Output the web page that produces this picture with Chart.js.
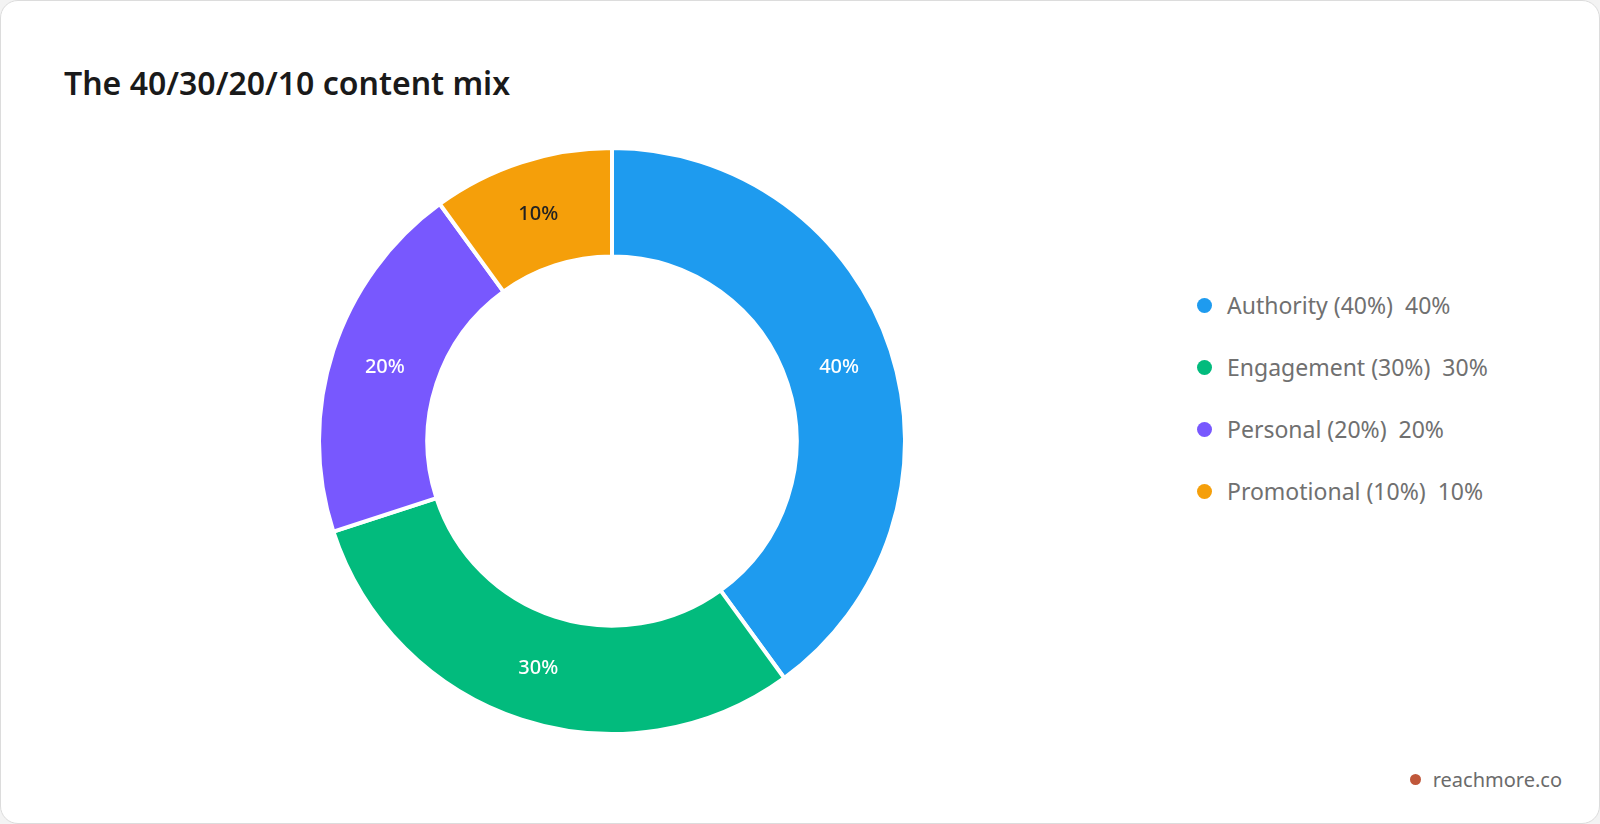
<!DOCTYPE html>
<html>
<head>
<meta charset="utf-8">
<script src="https://cdn.jsdelivr.net/npm/chart.js@4"></script>
<style>
  body { margin: 0; background: #f3f3f3; font-family: "Segoe UI", "Noto Sans", "Open Sans", sans-serif; overflow: hidden; }
  .card { position: absolute; left: 0; top: 0; width: 1598px; height: 822px; background: #fff;
          border: 1px solid #dcdcdc; border-radius: 18px; }
  h1 { position: absolute; left: 63px; top: 60px; margin: 0; font-size: 32px; font-weight: 600; color: #1a1a1a; }
  #wrap { position: absolute; left: 316px; top: 145px; width: 590px; height: 590px; }
  #legend { position: absolute; left: 1196px; top: 304px; font-size: 23px; color: #707070; font-weight: 400; }
  .item { display: flex; align-items: center; height: 62px; margin-top: -31px; margin-bottom: 31px; }
  .dot { width: 15px; height: 15px; border-radius: 50%; margin-right: 15px; }
  .brand { position: absolute; right: 37px; bottom: 30px; font-size: 20px; color: #6b6b6b; display: flex; align-items: center; }
  .brand span { width: 11px; height: 11px; border-radius: 50%; background: #c0573a; margin-right: 12px; }
</style>
</head>
<body>
<div class="card">
  <h1>The 40/30/20/10 content mix</h1>
  <div id="wrap"><canvas id="mix"></canvas></div>
  <div id="legend"></div>
  <div class="brand"><span></span>reachmore.co</div>
</div>
<script>
const categories = ['Authority (40%)', 'Engagement (30%)', 'Personal (20%)', 'Promotional (10%)'];
const shares = [40, 30, 20, 10];
const colors = ['#1e9bef', '#02bb7d', '#7858fe', '#f59f0a'];
const labelColors = ['#ffffff', '#ffffff', '#ffffff', '#222222'];

const legendElm = document.getElementById('legend');
categories.forEach((c, i) => {
  const row = document.createElement('div');
  row.className = 'item';
  row.innerHTML = '<div class="dot" style="background:' + colors[i] + '"></div>' + c + '&nbsp;&nbsp;' + shares[i] + '%';
  legendElm.appendChild(row);
});

const sliceLabels = {
  id: 'sliceLabels',
  afterDatasetsDraw(chart) {
    const ctx = chart.ctx;
    chart.getDatasetMeta(0).data.forEach((arc, i) => {
      const p = arc.tooltipPosition();
      ctx.save();
      ctx.font = '500 20px "Segoe UI", "Noto Sans", sans-serif';
      ctx.fillStyle = labelColors[i];
      ctx.textAlign = 'center';
      ctx.textBaseline = 'middle';
      ctx.fillText(shares[i] + '%', p.x, p.y);
      ctx.restore();
    });
  },
};

new Chart(document.getElementById('mix'), {
  type: 'doughnut',
  data: {
    labels: categories,
    datasets: [{ data: shares, backgroundColor: colors, borderColor: '#ffffff', borderWidth: 4 }],
  },
  options: {
    responsive: true,
    maintainAspectRatio: false,
    animation: false,
    cutout: '63%',
    layout: { padding: 0 },
    plugins: { legend: { display: false }, tooltip: { enabled: false } },
  },
  plugins: [sliceLabels],
});
</script>
</body>
</html>
